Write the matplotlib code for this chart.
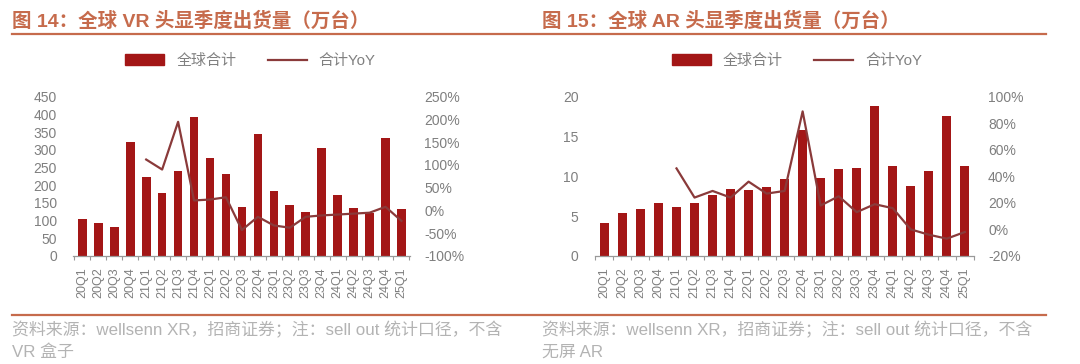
import matplotlib
matplotlib.use('Agg')
from matplotlib import pyplot as plt
from matplotlib.patches import Patch
from matplotlib.lines import Line2D
from matplotlib.ticker import FuncFormatter, MultipleLocator
import numpy as np

plt.rcParams['font.family'] = ['Liberation Sans', 'Noto Sans CJK SC', 'DejaVu Sans']

quarters = ['20Q1', '20Q2', '20Q3', '20Q4', '21Q1', '21Q2', '21Q3', '21Q4',
            '22Q1', '22Q2', '22Q3', '22Q4', '23Q1', '23Q2', '23Q3', '23Q4',
            '24Q1', '24Q2', '24Q3', '24Q4', '25Q1']

# VR shipments (10k units) and YoY (%), YoY starts at 21Q1
vr_total = [105, 93, 82, 321, 223, 178, 241, 393, 278, 231, 138, 344,
            183, 145, 123, 305, 173, 136, 120, 333, 134]
vr_yoy = [None, None, None, None, 112, 90, 195, 22, 24, 29, -43, -14,
          -33, -38, -14, -11, -9, -7, -5, 8, -23]

# AR shipments (10k units) and YoY (%)
ar_total = [4.1, 5.4, 5.9, 6.7, 6.1, 6.7, 7.6, 8.4, 8.3, 8.6, 9.7, 15.8,
            9.75, 10.9, 11.05, 18.9, 11.35, 8.85, 10.7, 17.6, 11.3]
ar_yoy = [None, None, None, None, 46, 24, 29, 24, 36, 27, 29, 89,
          18, 25, 13, 19, 16, 0, -4, -7, -2]

BAR = '#A31616'
LINE = '#8A3A3A'
TITLE = '#C66B4C'
TICK = '#7F7F7F'
FOOT = '#B3B3B3'

fig = plt.figure(figsize=(10.8, 3.64), dpi=100)


def draw_panel(rect, total, yoy, ylim, ystep, y2lim, y2step, barw, xpad):
    ax = fig.add_axes(rect)
    x = np.arange(len(quarters))
    ax.bar(x, total, width=barw, color=BAR, zorder=2)
    ax.set_xlim(-xpad, len(quarters) - 1 + xpad)
    ax.set_ylim(*ylim)
    ax.yaxis.set_major_locator(MultipleLocator(ystep))
    ax.set_xticks(x)
    ax.set_xticklabels(quarters, rotation=90, fontsize=9, color=TICK)
    ax.set_xticks(np.arange(-0.5, len(quarters), 1), minor=True)
    ax.tick_params(axis='x', which='major', length=0, pad=8)
    ax.tick_params(axis='x', which='minor', length=3, color='#999999', width=0.8)
    ax.tick_params(axis='y', length=0, labelsize=10, labelcolor=TICK, pad=12)
    for s in ['top', 'left', 'right']:
        ax.spines[s].set_visible(False)
    ax.spines['bottom'].set_color('#999999')
    ax.spines['bottom'].set_linewidth(0.9)

    ax2 = ax.twinx()
    yy = np.array([np.nan if v is None else v for v in yoy], dtype=float)
    ax2.plot(x, yy, color=LINE, lw=1.6, zorder=3)
    ax2.set_ylim(*y2lim)
    ax2.yaxis.set_major_locator(MultipleLocator(y2step))
    ax2.yaxis.set_major_formatter(FuncFormatter(lambda v, p: '%d%%' % round(v)))
    ax2.tick_params(axis='y', length=0, labelsize=10, labelcolor=TICK, pad=10)
    for s in ['top', 'left', 'right', 'bottom']:
        ax2.spines[s].set_visible(False)

    handles = [Patch(facecolor=BAR, edgecolor=BAR), Line2D([], [], color=LINE, lw=1.6)]
    return ax, handles


ax_l, h = draw_panel([0.068, 0.297, 0.312, 0.437], vr_total, vr_yoy,
                     (0, 450), 50, (-100, 250), 50, 0.54, 0.56)
fig.legend(h, ['全球合计', '合计YoY'], loc='center', bbox_to_anchor=(0.232, 0.833),
           ncol=2, frameon=False, fontsize=10.8, handlelength=2.6,
           handletextpad=0.8, columnspacing=2.1, labelcolor='#808080')

ax_r, h = draw_panel([0.551, 0.297, 0.351, 0.437], ar_total, ar_yoy,
                     (0, 20), 5, (-20, 100), 20, 0.52, 0.52)
fig.legend(h, ['全球合计', '合计YoY'], loc='center', bbox_to_anchor=(0.738, 0.833),
           ncol=2, frameon=False, fontsize=10.8, handlelength=2.6,
           handletextpad=0.8, columnspacing=2.1, labelcolor='#808080')

# titles and rules
fig.text(12 / 1080, 1 - 21 / 364, '图 14：全球 VR 头显季度出货量（万台）', fontsize=14,
         fontweight='bold', color=TITLE, va='center', ha='left')
fig.text(542 / 1080, 1 - 21 / 364, '图 15：全球 AR 头显季度出货量（万台）', fontsize=14,
         fontweight='bold', color=TITLE, va='center', ha='left')
for y in [34, 315]:
    fig.add_artist(Line2D([12 / 1080, 1046 / 1080], [1 - y / 364, 1 - y / 364],
                          color=TITLE, lw=1.6, transform=fig.transFigure))

fig.text(12 / 1080, 1 - 330 / 364, '资料来源：wellsenn XR，招商证券；注：sell out 统计口径，不含',
         fontsize=12.2, color=FOOT, va='center', ha='left')
fig.text(12 / 1080, 1 - 352 / 364, 'VR 盒子', fontsize=12.2, color=FOOT, va='center', ha='left')
fig.text(542 / 1080, 1 - 330 / 364, '资料来源：wellsenn XR，招商证券；注：sell out 统计口径，不含',
         fontsize=12.2, color=FOOT, va='center', ha='left')
fig.text(542 / 1080, 1 - 352 / 364, '无屏 AR', fontsize=12.2, color=FOOT, va='center', ha='left')

plt.savefig('out.png', dpi=100)
